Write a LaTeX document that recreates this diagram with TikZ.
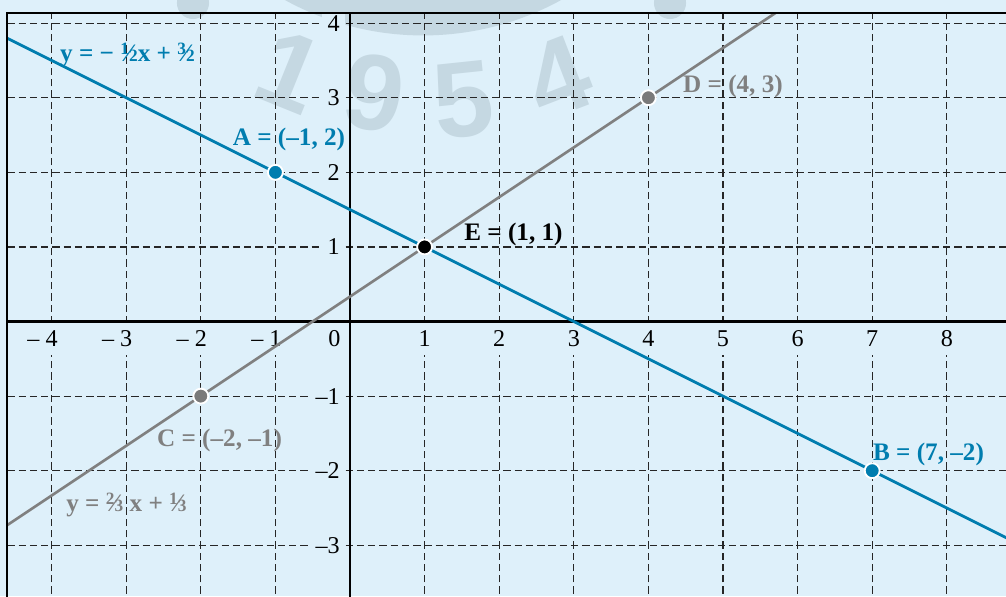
\documentclass[tikz,border=0pt]{standalone}
\usepackage{fontspec}
\usepackage{graphicx}
\setmainfont{Liberation Serif}
\newfontfamily\wmfont{Liberation Sans}
\definecolor{bgblue}{RGB}{222,240,250}
\definecolor{lineblue}{RGB}{0,125,175}
\definecolor{linegray}{RGB}{128,128,128}
\definecolor{wmark}{RGB}{197,216,226}
% built-up fraction as in the printed labels
\newcommand{\frc}[2]{\raisebox{0.6ex}{\fontsize{6.6}{6.6}\selectfont #1}\kern-0.08em\char"2044\kern-0.08em{\fontsize{6.6}{6.6}\selectfont #2}}

\begin{document}
\begin{tikzpicture}
    % Define styles
    \tikzstyle{gridline} = [black!85, line width=0.45pt, dash pattern=on 2.8pt off 1.5pt]
    \tikzstyle{axisline} = [black, line width=1pt]
    \tikzstyle{border} = [black, line width=0.75pt]
    \tikzstyle{graphline} = [line width=1.1pt]
    \tikzstyle{dot} = [circle, draw=white, line width=0.7pt, inner sep=0pt, minimum size=0.2cm]
    \tikzstyle{ptlabel} = [font=\fontsize{9.6}{10}\selectfont\bfseries, inner sep=0pt]
    \tikzstyle{xnum} = [font=\fontsize{9.2}{10}\selectfont, fill=bgblue, inner xsep=1.5pt, inner ysep=3.4pt, anchor=north]
    \tikzstyle{ynum} = [font=\fontsize{9.2}{10}\selectfont, fill=bgblue, inner xsep=2pt, inner ysep=1pt, anchor=east]
    \tikzstyle{wmdigit} = [text=wmark, font=\wmfont\bfseries\fontsize{41}{41}\selectfont, inner sep=0pt]

    % Canvas
    \useasboundingbox (-4.692,-3.68) rectangle (8.794,4.31);
    \clip (-4.692,-3.68) rectangle (8.794,4.31);
    \fill[bgblue] (-4.692,-3.68) rectangle (8.794,4.31);
    \coordinate (corner) at (-4.594,4.139);

    % Watermark
    \draw[wmark, line width=0.54cm] (0.979,7.675) circle (3.57);
    \fill[wmark] (-2.105,4.27) circle (0.215);
    \fill[wmark] (4.29,4.27) circle (0.215);
    \node[wmdigit, rotate=-22] (wm1) at (-0.804,3.358) {1};
    \node[wmdigit, rotate=-8] (wm9) at (0.322,3.063) {9};
    \node[wmdigit, rotate=6] (wm5) at (1.515,2.969) {5};
    \node[wmdigit, rotate=21] (wm4) at (2.788,3.278) {4};

    \begin{scope}
        \clip (corner) rectangle (9,-3.8);
        % Grid
        \draw[gridline] (-4.594,-3.8) grid (9,4.139);

        % Axis numbers
        \foreach \x in {1,...,8}
            \node[xnum] (x\x) at (\x,0.01) {\x};
        \foreach \x in {1,...,4}
            \node[xnum] (xm\x) at (-\x,0.01) {\llap{– }\x};
        \node[xnum] (x0) at (-0.21,0.01) {0};
        \foreach \y in {1,...,4}
            \node[ynum] (y\y) at (-0.06,\y) {\y};
        \foreach \y in {1,...,3}
            \node[ynum] (ym\y) at (-0.06,-\y) {–\y};

        % Axes
        \draw[axisline] (corner |- 0,0) -- (9,0);
        \draw[axisline] (corner -| 0,0) -- (0,-3.8);

        % Lines
        \draw[graphline, lineblue] (-4.8,3.9) -- (9.2,-3.1);
        \draw[graphline, linegray, line width=1pt] (-4.8,-2.8667) -- (6,4.3333);
    \end{scope}

    % Frame
    \draw[border] (-4.594,-3.8) |- (9,4.139);

    % Points
    \node[dot, fill=lineblue] (A) at (-1,2) {};
    \node[dot, fill=lineblue] (B) at (7,-2) {};
    \node[dot, fill=linegray!95!black] (C) at (-2,-1) {};
    \node[dot, fill=linegray!95!black] (D) at (4,3) {};
    \node[dot, fill=black] (E) at (1,1) {};

    % Labels
    \node[ptlabel, text=lineblue] (Alab) at (-0.818,2.440) {A = (–1, 2)};
    \node[ptlabel, text=lineblue] (Blab) at (7.755,-1.776) {B = (7, –2)};
    \node[ptlabel, text=linegray] (Clab) at (-1.749,-1.588) {C = (–2, –1)};
    \node[ptlabel, text=linegray] (Dlab) at (5.134,3.150) {D = (4, 3)};
    \node[ptlabel, text=black] (Elab) at (2.192,1.173) {E = (1, 1)};
    \node[ptlabel, text=lineblue] (eqA) at (-2.983,3.579) {y = − \frc{1}{2}x + \frc{3}{2}};
    \node[ptlabel, text=linegray] (eqC) at (-2.996,-2.460) {y = \frc{2}{3} x + \frc{1}{3}};
\end{tikzpicture}
\end{document}
